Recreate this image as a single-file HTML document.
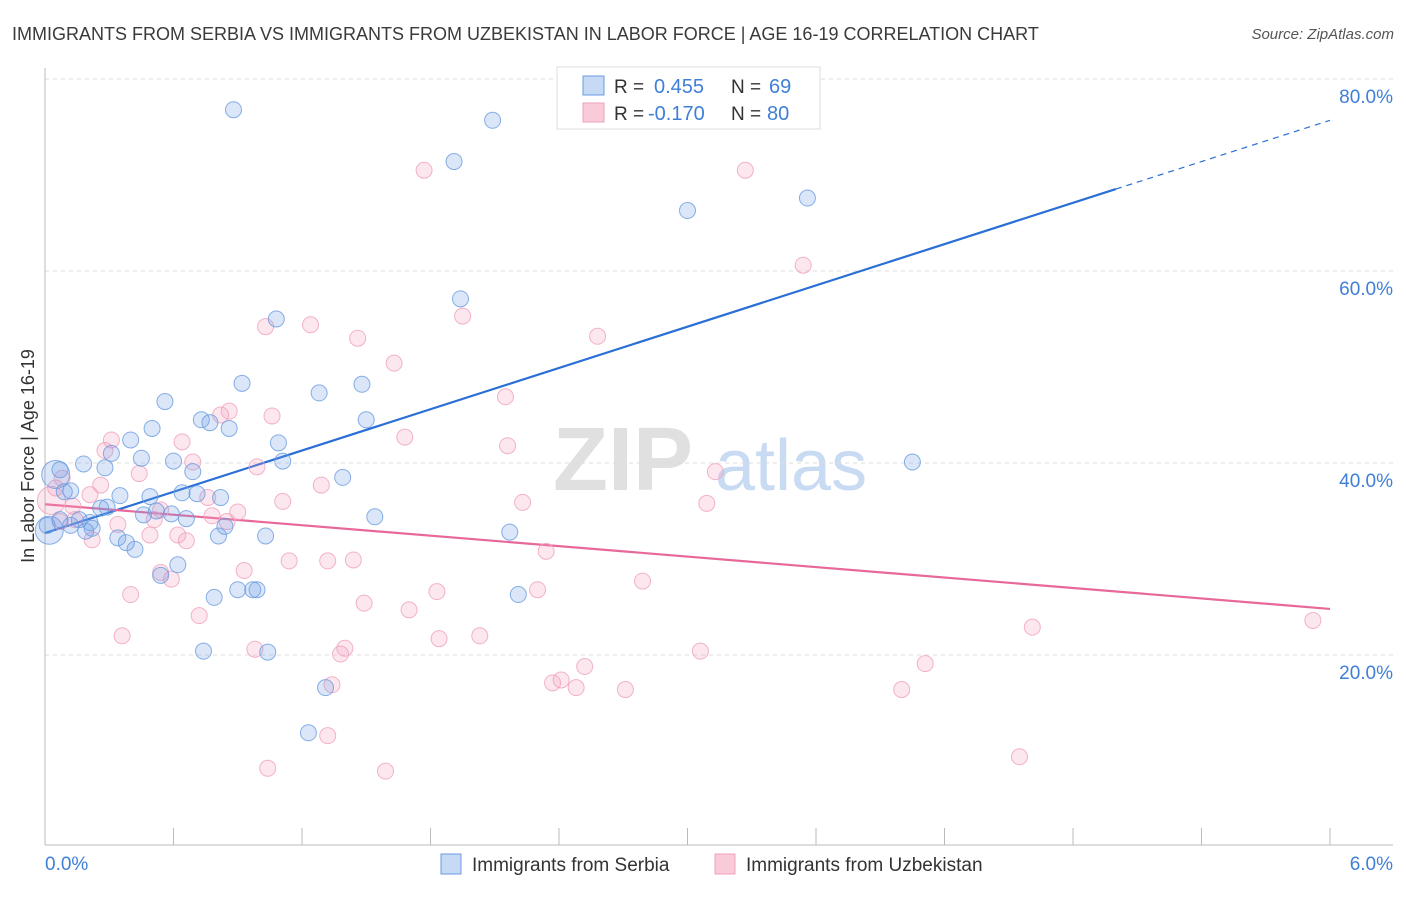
<!DOCTYPE html>
<html><head><meta charset="utf-8"><style>
body{margin:0;background:#fff;font-family:"Liberation Sans",sans-serif;}
svg text{font-family:"Liberation Sans",sans-serif;}
</style></head><body>
<svg id="chart" width="1406" height="892" xmlns="http://www.w3.org/2000/svg">
<text x="12" y="40" font-size="18" fill="#3a3a3a">IMMIGRANTS FROM SERBIA VS IMMIGRANTS FROM UZBEKISTAN IN LABOR FORCE | AGE 16-19 CORRELATION CHART</text>
<text x="1394" y="39" font-size="15" fill="#555" font-style="italic" text-anchor="end">Source: ZipAtlas.com</text>
<g><text x="553" y="490" font-size="90" fill="#e0e0e0" font-family="Liberation Serif" font-weight="bold">ZIP</text><text x="715" y="490" font-size="72" fill="#c9dbf2">atlas</text></g>
<g id="grid"></g>
<g id="axes"></g>
<g id="trend"></g>
<g id="pts"></g>
<text transform="translate(34,456) rotate(-90)" font-size="18" fill="#333" text-anchor="middle">In Labor Force | Age 16-19</text>
<g>
<rect x="557" y="67" width="263" height="62" fill="#fff" stroke="#ddd"/>
<rect x="583" y="76" width="21" height="19" fill="#c6d9f5" stroke="#6a9be0"/>
<rect x="583" y="103" width="21" height="19" fill="#f9cbd9" stroke="#f0a0bb"/>
<text x="614" y="93" font-size="19" fill="#333">R = </text><text x="654" y="93" font-size="20" fill="#3f7fd8">0.455</text>
<text x="731" y="93" font-size="19" fill="#333">N = </text><text x="769" y="93" font-size="20" fill="#3f7fd8">69</text>
<text x="614" y="120" font-size="19" fill="#333">R = </text><text x="648" y="120" font-size="20" fill="#3f7fd8">-0.170</text>
<text x="731" y="120" font-size="19" fill="#333">N = </text><text x="767" y="120" font-size="20" fill="#3f7fd8">80</text>
</g>
<g>
<rect x="441" y="854" width="20" height="20" fill="#c6d9f5" stroke="#6a9be0"/>
<text x="472" y="871" font-size="19" fill="#333">Immigrants from Serbia</text>
<rect x="715" y="854" width="20" height="20" fill="#f9cbd9" stroke="#f0a0bb"/>
<text x="746" y="871" font-size="19" fill="#333">Immigrants from Uzbekistan</text>
</g>
</svg>
<script>
const blueX=[0.88,2.09,1.91,3.00,3.56,1.94,1.08,0.92,1.48,1.28,0.56,1.50,0.73,0.77,0.86,0.50,0.40,1.09,0.31,0.45,1.11,0.60,4.05,0.18,0.28,0.69,0.07,1.39,0.12,0.64,0.35,0.49,0.71,0.82,0.29,0.26,0.52,0.46,0.59,1.54,0.66,0.16,0.21,0.22,0.12,0.02,0.19,0.84,0.81,1.03,0.34,0.38,0.42,2.17,0.62,0.54,0.79,0.90,0.97,0.99,2.21,0.74,1.04,1.31,1.23,0.05,0.09,0.07,0.01];
const blueY=[76.8,75.7,71.4,66.3,67.6,57.1,55.0,48.3,48.2,47.3,46.4,44.5,44.5,44.2,43.6,43.6,42.4,42.1,41.0,40.5,40.2,40.2,40.1,39.9,39.5,39.1,39.3,38.5,37.1,36.9,36.6,36.5,36.8,36.4,35.4,35.3,35.0,34.6,34.7,34.4,34.2,34.1,33.8,33.2,33.5,33.0,32.9,33.4,32.4,32.4,32.2,31.7,31.0,32.8,29.4,28.3,26.0,26.8,26.8,26.8,26.3,20.4,20.3,16.6,11.9,38.8,37.0,34.1,33.5];
const pinkX=[1.77,3.27,3.54,1.95,1.03,1.24,1.46,2.58,1.63,2.15,0.86,0.82,1.06,1.68,0.31,0.64,2.16,0.28,0.69,0.99,3.13,0.44,0.08,0.26,1.29,0.21,0.76,1.11,2.23,3.09,0.13,0.90,0.78,0.51,0.34,0.85,0.62,0.49,0.66,2.34,1.14,1.32,1.44,0.54,0.93,0.59,2.79,0.40,1.83,2.30,1.49,1.70,0.72,0.36,1.84,2.03,4.61,5.92,1.40,1.38,0.98,3.06,2.52,4.11,2.37,2.41,2.48,2.71,4.00,1.34,1.04,1.59,4.55,1.32,0.03,0.07,0.05,0.14,0.22,0.54];
const pinkY=[70.5,70.5,60.6,55.3,54.2,54.4,53.0,53.2,50.4,46.9,45.4,45.0,44.9,42.7,42.4,42.2,41.8,41.3,40.1,39.6,39.1,38.9,38.4,37.7,37.7,36.7,36.4,36.0,35.9,35.8,35.5,34.9,34.5,34.1,33.6,33.9,32.5,32.5,31.9,30.8,29.8,29.8,29.9,28.6,28.8,27.9,27.7,26.3,26.6,26.8,25.4,24.7,24.1,22.0,21.7,22.0,22.9,23.6,20.7,20.1,20.6,20.4,18.8,19.1,17.1,17.4,16.6,16.4,16.4,16.9,8.2,7.9,9.4,11.6,36.1,33.9,37.4,34.1,32.0,35.1];
const blueBig=[45,65];
const pinkBig=[74];
const yTicks=[20,40,60,80];
const xTickLabels=["0.0%","6.0%"];
const blueTrend=[32.7,75.7];
const pinkTrend=[35.7,24.8];
const NS="http://www.w3.org/2000/svg";
const X=v=>45+v/6*1285;
const Y=v=>847-v*9.6;
function mk(tag,attrs,parent){const e=document.createElementNS(NS,tag);for(const k in attrs)e.setAttribute(k,attrs[k]);parent.appendChild(e);return e;}
const grid=document.getElementById('grid'),axes=document.getElementById('axes'),trend=document.getElementById('trend'),pts=document.getElementById('pts');
yTicks.forEach(t=>{
 const l=mk('line',{x1:45,x2:1393,y1:Y(t),y2:Y(t),stroke:'#ddd','stroke-dasharray':'4,4'},grid);
 
 
 const tx=mk('text',{x:1393,y:Y(t)+24,'font-size':19,fill:'#3f7fd8','text-anchor':'end'},axes);
 tx.textContent=t.toFixed(1)+'%';
 
 
});
mk('line',{x1:45,x2:45,y1:68,y2:845,stroke:'#bbb'},axes);
mk('line',{x1:45,x2:1393,y1:845,y2:845,stroke:'#bbb'},axes);
for(let i=0;i<=10;i++){const t=mk('line',{x1:X(i*0.6),x2:X(i*0.6),y1:828,y2:845,stroke:'#bbb'},axes);
 
 }
const xl0=mk('text',{x:45,y:870,'font-size':19,fill:'#3f7fd8'},axes);xl0.textContent=xTickLabels[0];


const xl1=mk('text',{x:1393,y:870,'font-size':19,fill:'#3f7fd8','text-anchor':'end'},axes);xl1.textContent=xTickLabels[1];


function drawPts(xs,ys,big,fill,stroke,name){
 xs.forEach((x,i)=>{const c=mk('circle',{cx:X(x),cy:Y(ys[i]),r:big.includes(i)?14:8,fill:fill,stroke:stroke,'stroke-width':1,'stroke-opacity':0.8},pts);
 
 });
}
drawPts(pinkX,pinkY,pinkBig,'rgba(244,160,190,0.25)','#f0a0bb','uzbekistan-point');
drawPts(blueX,blueY,blueBig,'rgba(110,160,230,0.25)','#6a9be0','serbia-point');
const bx=v=>blueTrend[0]+(blueTrend[1]-blueTrend[0])*v/6;
const bl=mk('line',{x1:X(0),y1:Y(bx(0)),x2:X(5),y2:Y(bx(5)),stroke:'#2a6fd6','stroke-width':2.2},trend);


const bd=mk('line',{x1:X(5),y1:Y(bx(5)),x2:X(6),y2:Y(bx(6)),stroke:'#2a6fd6','stroke-width':1.2,'stroke-dasharray':'6,5'},trend);


const pl=mk('line',{x1:X(0),y1:Y(pinkTrend[0]),x2:X(6),y2:Y(pinkTrend[1]),stroke:'#e8689a','stroke-width':2.2},trend);


</script>
</body></html>
